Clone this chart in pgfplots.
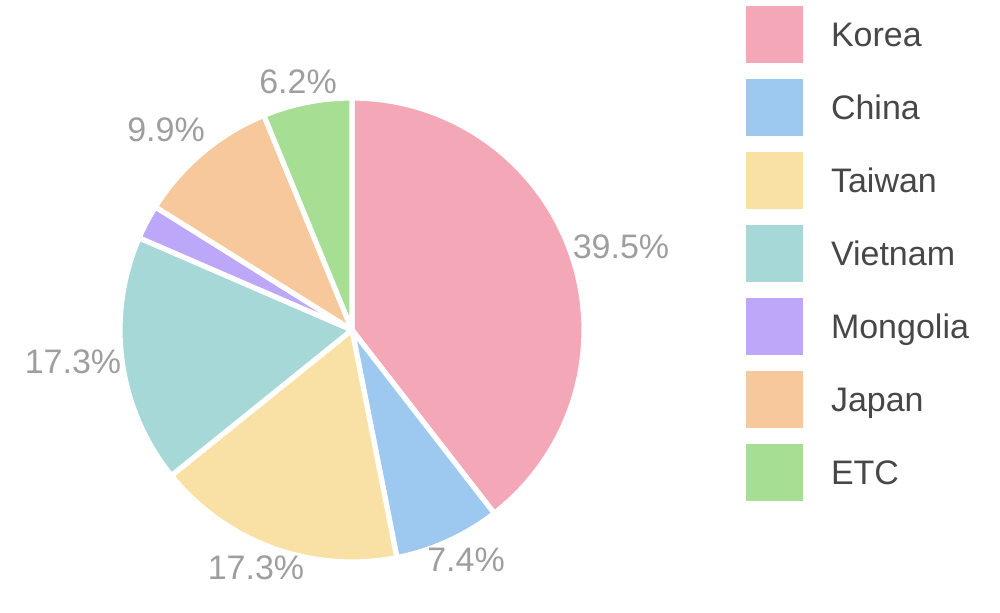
\documentclass[border=0pt]{standalone}
\usepackage{pgfplots}
\pgfplotsset{compat=1.18}
\usepackage{fontspec}
\setmainfont{Liberation Sans}
\definecolor{cKorea}{HTML}{F4A7B6}
\definecolor{cChina}{HTML}{9DC8EF}
\definecolor{cTaiwan}{HTML}{F9E1A6}
\definecolor{cVietnam}{HTML}{A7D8D8}
\definecolor{cMongolia}{HTML}{BCA7F8}
\definecolor{cJapan}{HTML}{F6C89B}
\definecolor{cETC}{HTML}{A6DE94}
\definecolor{labgrey}{HTML}{9E9E9E}
\definecolor{legtext}{HTML}{474747}
% #1 cumulative start (percent), #2 share (percent), #3 colour
\newcommand\slice[3]{%
  \pgfmathsetmacro\sa{#1*3.6}%
  \pgfmathsetmacro\sb{(#1+#2)*3.6}%
  \addplot[fill=#3, draw=white, line width=2.6pt, line join=round,
    domain=\sa:\sb, samples=90, variable=\t]
    ({352+232*sin(\t)},{283+232*cos(\t)}) -- (axis cs:352,283) -- cycle;
}
\begin{document}
\begin{tikzpicture}
\useasboundingbox (0,0) rectangle (500pt,306.5pt);
\begin{axis}[
  at={(0,0)}, anchor=south west,
  scale only axis, width=500pt, height=306.5pt,
  xmin=0, xmax=1000, ymin=0, ymax=613,
  hide axis, clip=false,
  legend style={at={(0.746,0.99021)}, anchor=north west, draw=none, fill=none,
    inner sep=0pt, outer sep=0pt, row sep=8pt, column sep=14pt,
    font=\fontsize{17}{20}\selectfont, text=legtext,
    nodes={inner sep=0pt, outer sep=0pt}},
  legend cell align=left,
  legend image code/.code={\path[#1, draw=none] (0pt,-13.5pt) rectangle (28.5pt,15pt);},
]
\slice{0}{39.5}{cKorea}\addlegendentry{Korea}
\slice{39.5}{7.4}{cChina}\addlegendentry{China}
\slice{46.9}{17.3}{cTaiwan}\addlegendentry{Taiwan}
\slice{64.2}{17.3}{cVietnam}\addlegendentry{Vietnam}
\slice{81.5}{2.4}{cMongolia}\addlegendentry{Mongolia}
\slice{83.9}{9.9}{cJapan}\addlegendentry{Japan}
\slice{93.8}{6.2}{cETC}\addlegendentry{ETC}
\begin{scope}[every node/.style={font=\fontsize{17}{20}\selectfont, text=labgrey, inner sep=0pt}]
\node at (axis cs:621,366) {39.5\%};
\node at (axis cs:466,53) {7.4\%};
\node at (axis cs:256,45) {17.3\%};
\node at (axis cs:73,251) {17.3\%};
\node at (axis cs:166,483) {9.9\%};
\node at (axis cs:298,531) {6.2\%};
\end{scope}
\end{axis}
\end{tikzpicture}
\end{document}
